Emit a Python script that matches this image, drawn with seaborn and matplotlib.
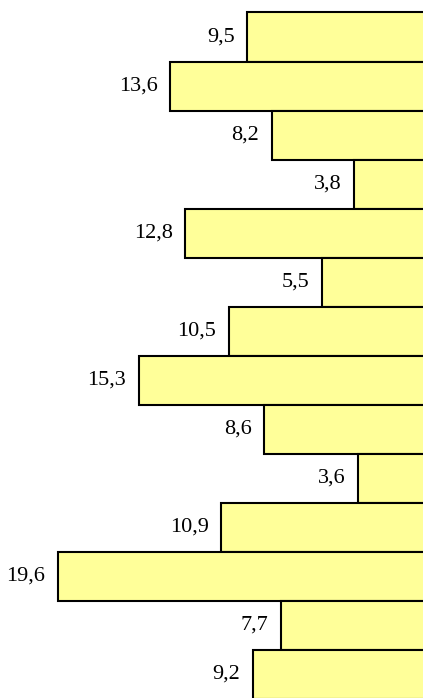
import numpy as np
import seaborn as sns
import matplotlib.pyplot as plt

# values, top to bottom
values = [9.5, 13.6, 8.2, 3.8, 12.8, 5.5, 10.5, 15.3, 8.6, 3.6, 10.9, 19.6, 7.7, 9.2]
rows = [str(i + 1) for i in range(len(values))]
labels = [f"{v:.1f}".replace(".", ",") for v in values]

sns.set_style("white")
plt.rcParams['font.family'] = ['Liberation Serif', 'DejaVu Serif']

fig = plt.figure(figsize=(4.23, 6.98), dpi=100)
# axes run past the right and bottom of the figure so the bar ends stay hidden
ax = fig.add_axes([0, -0.05, 1.05, 1.05])

sns.barplot(x=values, y=rows, orient='h', width=1.0, color='#FFFF99',
            saturation=1, edgecolor='black', linewidth=1.5, ax=ax)

ax.set_xlim(22.69, -1.0)
ax.set_ylim(14.2, -0.755)
ax.bar_label(ax.containers[0], labels=labels, padding=9, fontsize=16, color='black')
ax.set_axis_off()

fig.savefig('out.png', dpi=100)
